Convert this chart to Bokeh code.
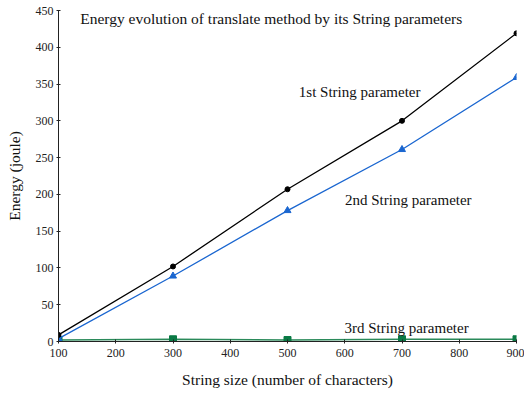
from bokeh.plotting import figure
from bokeh.models import Label, Range1d, FixedTicker
from bokeh.embed import file_html
from bokeh.resources import INLINE

sizes = [100, 300, 500, 700, 900]
first_param = [9, 102, 207, 300, 419]
second_param = [4, 89, 178, 261, 359]
third_param = [2, 3, 2, 3, 3]
x_ticks = [100, 200, 300, 400, 500, 600, 700, 800, 900]
y_ticks = [0, 50, 100, 150, 200, 250, 300, 350, 400, 450]

FONT = "Liberation Serif"

p = figure(width=524, height=390, output_backend="svg", toolbar_location=None,
           x_range=Range1d(100, 900), y_range=Range1d(0, 450),
           min_border_left=58, min_border_right=8, min_border_top=10, min_border_bottom=47)
p.outline_line_color = None
p.xgrid.visible = False
p.ygrid.visible = False

for ax in (p.xaxis[0], p.yaxis[0]):
    ax.axis_line_color = "#222222"
    ax.major_tick_line_color = "#222222"
    ax.minor_tick_line_color = None
    ax.major_tick_in = 2
    ax.major_tick_out = 2
    ax.major_label_text_font = FONT
    ax.major_label_text_font_size = "12px"
    ax.major_label_text_color = "#222222"
    ax.axis_label_text_font = FONT
    ax.axis_label_text_font_size = "15.5px"
    ax.axis_label_text_font_style = "normal"
    ax.axis_label_text_color = "#111111"

p.xaxis.ticker = FixedTicker(ticks=x_ticks)
p.yaxis.ticker = FixedTicker(ticks=y_ticks)
p.xaxis.axis_label = "String size (number of characters)"
p.yaxis.axis_label = "Energy (joule)"
p.xaxis.major_label_standoff = 5
p.xaxis.axis_label_standoff = 11
p.yaxis.major_label_standoff = 3
p.yaxis.axis_label_standoff = 10

p.line(sizes, third_param, line_color="#2a8a5a", line_width=1.5)
p.scatter(sizes, third_param, marker="square", size=7, color="#0a7a45")
p.line(sizes, second_param, line_color="#1a66d0", line_width=1.3)
p.scatter(sizes, second_param, marker="triangle", size=7, color="#1a66d0")
p.line(sizes, first_param, line_color="black", line_width=1.3)
p.scatter(sizes, first_param, marker="circle", size=5, color="black")

def lab(x, y, t, align="center", size="15px"):
    p.add_layout(Label(x=x, y=y, text=t, text_font=FONT, text_font_size=size,
                       text_align=align, text_baseline="middle", text_color="#111111"))

lab(138, 439, "Energy evolution of translate method by its String parameters", "left", "15.5px")
lab(626, 339, "1st String parameter")
lab(711, 193, "2nd String parameter")
lab(708, 19, "3rd String parameter")

open("out.html", "w").write(file_html(p, INLINE))
